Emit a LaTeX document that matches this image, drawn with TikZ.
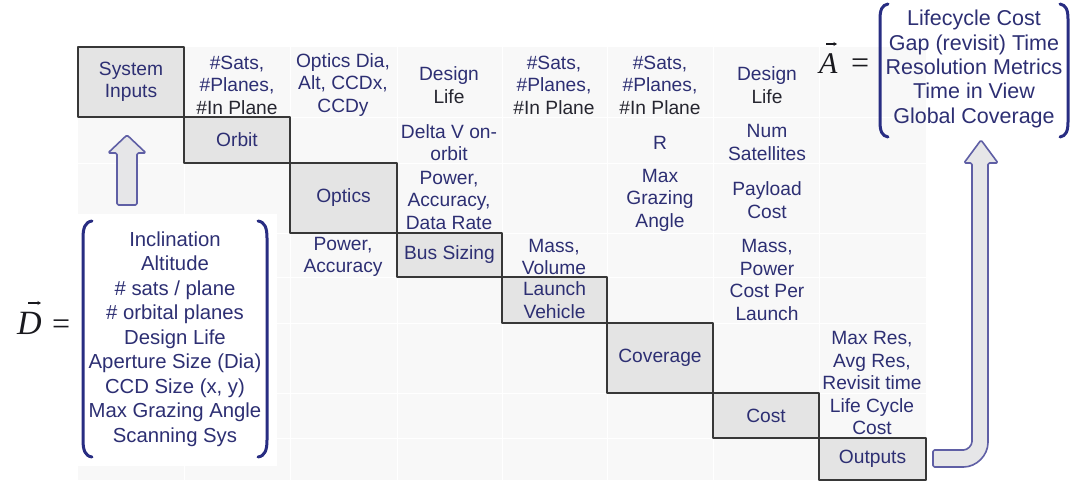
\documentclass[tikz,border=0pt]{standalone}
\usepackage{fontspec}
\setmainfont{Liberation Sans}
\newfontfamily\vecfont{Liberation Serif}
\usetikzlibrary{arrows.meta}

\definecolor{txtblue}{RGB}{45,47,115}
\definecolor{txtdark}{RGB}{38,38,48}
\definecolor{boxfill}{RGB}{228,228,228}
\definecolor{boxline}{RGB}{55,55,55}
\definecolor{brkblue}{RGB}{40,45,130}
\definecolor{arrline}{RGB}{95,95,165}
\definecolor{arrfill}{RGB}{230,230,232}
\definecolor{gridbg}{RGB}{248,248,248}
\definecolor{symcol}{RGB}{25,25,30}

\newcommand\gridfont{\fontsize{19.2}{22.5}\selectfont}
\newcommand\dk[1]{\textcolor{txtdark}{#1}}

\begin{document}
\begin{tikzpicture}[x=1pt,y=-1pt,
  every node/.style={inner sep=0pt,outer sep=0pt},
  cell/.style={font=\gridfont,text=txtblue,align=center},
  stage/.style={cell,draw=boxline,fill=boxfill,line width=1.6pt,
                line join=round,rectangle},
  brk/.style={draw=brkblue,line width=3pt,line cap=round},
  blockarrow/.style={draw=arrline,fill=arrfill,line width=1.6pt,line join=round},
  vecsym/.style={anchor=base west,text=symcol},
  vecaccent/.style={draw=symcol,line width=1.1pt,-{Stealth[length=3.5pt,width=4pt]}}]

\useasboundingbox (0,0) rectangle (1074,483);

% faint table background
\fill[gridbg] (78,47) rectangle (926,480);
\foreach \cx in {184,290,397,502,607,713,819}
  \draw[white,line width=0.8pt] (\cx,47) -- (\cx,480);
\foreach \ry in {117,163,233,277,323,393,438}
  \draw[white,line width=0.8pt] (78,\ry) -- (926,\ry);
\fill[white] (78,214) rectangle (277,466);

% stages along the diagonal
\node[stage,minimum width=106pt,minimum height=70pt] (sys)    at (131,82)    {System\\Inputs};
\node[stage,minimum width=106pt,minimum height=46pt] (orbit)  at (237,140)   {Orbit};
\node[stage,minimum width=107pt,minimum height=70pt] (optics) at (343.5,198) {Optics};
\node[stage,minimum width=105pt,minimum height=44pt] (bus)    at (449.5,255) {Bus Sizing};
\node[stage,minimum width=105pt,minimum height=46pt] (launch) at (554.5,300) {Launch\\Vehicle};
\node[stage,minimum width=106pt,minimum height=70pt] (cov)    at (660,358)   {Coverage};
\node[stage,minimum width=106pt,minimum height=45pt] (cost)   at (766,415.5) {Cost};
\node[stage,minimum width=107pt,minimum height=42pt] (out)    at (872.5,459) {Outputs};

% couplings passed between stages
\node[cell] (s2) at (237,85) {\#Sats,\\\#Planes,\\\dk{\#In Plane}};
\node[cell] (s3) at (343,85) {Optics Dia,\\Alt, CCDx,\\CCDy};
\node[cell] (s4) at (449,85) {Design\\\dk{Life}};
\node[cell] (s5) at (554,85) {\#Sats,\\\#Planes,\\\dk{\#In Plane}};
\node[cell] (s6) at (660,85) {\#Sats,\\\#Planes,\\\dk{\#In Plane}};
\node[cell] (s7) at (767,85) {Design\\\dk{Life}};

\node[cell] (o4) at (449,142.5) {Delta V on-\\orbit};
\node[cell] (o6) at (660,143)   {R};
\node[cell] (o7) at (767,142.5) {Num\\Satellites};

\node[cell] (p4) at (449,200) {Power,\\Accuracy,\\Data Rate};
\node[cell] (p6) at (660,200) {Max\\Grazing\\Angle};
\node[cell] (p7) at (767,200) {Payload\\Cost};

\node[cell] (b3) at (343,257) {Power,\\Accuracy};
\node[cell] (b5) at (554,257) {Mass,\\Volume};
\node[cell] (b7) at (767,280) {Mass,\\Power\\Cost Per\\Launch};

\node[cell] (c8) at (872,383) {Max Res,\\Avg Res,\\Revisit time\\Life Cycle\\Cost};

% design vector
\node[vecsym,font=\fontsize{34}{34}\vecfont\itshape] (dsym) at (17,334) {D};
\node[vecsym,font=\fontsize{32}{32}\vecfont] (deq) at (52,334) {=};
\draw[vecaccent] (28,303) -- (41,303);
\draw[brk] (92,221) .. controls (85,222) and (83,228) .. (83,238) -- (83,440)
           .. controls (83,450) and (85,456) .. (92,457);
\draw[brk] (258,221) .. controls (265,222) and (267,228) .. (267,238) -- (267,440)
           .. controls (267,450) and (265,456) .. (258,457);
\node[cell,font=\fontsize{20.3}{24.5}\selectfont] (dlist) at (175,339)
  {Inclination\\Altitude\\\# sats / plane\\\# orbital planes\\Design Life\\Aperture Size (Dia)\\CCD Size (x, y)\\Max Grazing Angle\\Scanning Sys};

% attribute vector
\node[vecsym,font=\fontsize{30}{30}\vecfont\itshape] (asym) at (819,73) {A};
\node[vecsym,font=\fontsize{32}{32}\vecfont] (aeq) at (851,73) {=};
\draw[vecaccent] (826,44) -- (837,44);
\draw[brk] (888,4) .. controls (882,5) and (880,10) .. (880,19) -- (880,122)
           .. controls (880,131) and (882,136) .. (888,137);
\draw[brk] (1060,4) .. controls (1066,5) and (1068,10) .. (1068,19) -- (1068,122)
           .. controls (1068,131) and (1066,136) .. (1060,137);
\node[cell,font=\fontsize{21.5}{24.3}\selectfont] (alist) at (974,69)
  {Lifecycle Cost\\Gap (revisit) Time\\Resolution Metrics\\Time in View\\Global Coverage};

% block arrows: design vector into the inputs, outputs up to the attributes
\draw[blockarrow,rounded corners=1.5pt] (117,205) -- (117,153) -- (108,153) -- (127,135)
  -- (146,153) -- (137,153) -- (137,205) -- cycle;
\draw[blockarrow,rounded corners=1.5pt] (933,450) -- (962,450)
  .. controls (967.5,450) and (972,445.5) .. (972,440) -- (972,163) -- (964,163)
  -- (981,140) -- (998,163) -- (988,163) -- (988,441)
  .. controls (988,455.4) and (976.4,467) .. (962,467) -- (933,467) -- cycle;
\end{tikzpicture}
\end{document}
